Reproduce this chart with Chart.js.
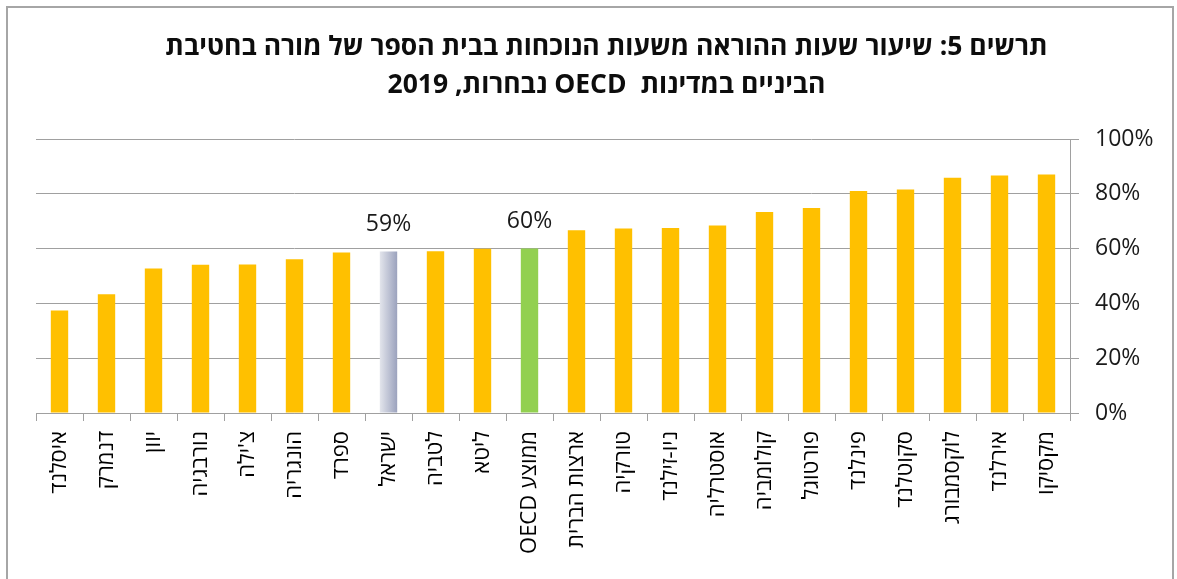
<!DOCTYPE html>
<html lang="he">
<head>
<meta charset="utf-8">
<script src="https://cdn.jsdelivr.net/npm/chart.js@4"></script>
<style>
  body { margin: 0; overflow: hidden; background: #fff; }
  #frame { position: absolute; left: 6px; top: 6px; width: 1164px; height: 600px;
           border: 2px solid #a6a6a6; border-bottom: none; }
  #teachChart { position: absolute; left: 0; top: 0; direction: rtl; }
</style>
</head>
<body>
<div id="frame"></div>
<canvas id="teachChart" width="1177" height="579"></canvas>
<script>
const countries = ['איסלנד', 'דנמרק', 'יוון', 'נורבגיה', "צ'ילה", 'הונגריה', 'ספרד', 'ישראל',
    'לטביה', 'ליטא', 'ממוצע OECD', 'ארצות הברית', 'טורקיה', 'ניו-זילנד', 'אוסטרליה',
    'קולומביה', 'פורטוגל', 'פינלנד', 'סקוטלנד', 'לוקסמבורג', 'אירלנד', 'מקסיקו'];
const teachShare = [37.4, 43.3, 52.7, 54.1, 54.2, 56.1, 58.6, 58.9, 59.0, 59.9, 60.0,
    66.7, 67.3, 67.5, 68.4, 73.4, 74.8, 81.0, 81.6, 85.9, 86.7, 87.0];
const labelled = ['ישראל', 'ממוצע OECD'];
const titleLines = ['תרשים 5: שיעור שעות ההוראה משעות הנוכחות בבית הספר של מורה בחטיבת',
    'הביניים במדינות  OECD נבחרות, 2019'];

const FONT = "'Open Sans', 'Liberation Sans', 'DejaVu Sans', sans-serif";
const GRID = '#a0a0a0';
const barPct = 0.37;

function barColor(c) {
    const name = countries[c.dataIndex];
    if (name === 'ממוצע OECD') return '#92d050';
    if (name === 'ישראל') {
        const xs = c.chart.scales.x;
        if (!xs || !xs.width) return '#bfc3d4';
        const mid = xs.getPixelForValue(c.dataIndex);
        const half = xs.width / countries.length * barPct / 2;
        const g = c.chart.ctx.createLinearGradient(mid - half, 0, mid + half, 0);
        g.addColorStop(0, '#e3e5ec');
        g.addColorStop(1, '#9ba2bd');
        return g;
    }
    return '#ffc000';
}

const valueLabels = {
    id: 'valueLabels',
    afterDatasetsDraw(chart) {
        const ctx = chart.ctx;
        const meta = chart.getDatasetMeta(0);
        ctx.save();
        ctx.font = '23px ' + FONT;
        ctx.fillStyle = '#1a1a1a';
        ctx.textAlign = 'center';
        ctx.textBaseline = 'bottom';
        meta.data.forEach((bar, i) => {
            if (labelled.includes(countries[i])) {
                ctx.fillText(Math.round(teachShare[i]) + '%', bar.x, bar.y - 16);
            }
        });
        ctx.restore();
    }
};

new Chart(document.getElementById('teachChart'), {
    type: 'bar',
    data: {
        labels: countries,
        datasets: [{
            data: teachShare,
            backgroundColor: barColor,
            barPercentage: barPct,
            categoryPercentage: 1
        }]
    },
    options: {
        responsive: false,
        animation: false,
        layout: { padding: { left: 36, right: 0, top: 0, bottom: 0 } },
        plugins: {
            legend: { display: false },
            tooltip: { enabled: false },
            title: {
                display: true,
                text: titleLines,
                color: '#0d0d0d',
                font: { family: FONT, size: 26.5, weight: 'bold', lineHeight: '38px' },
                padding: { top: 28, bottom: 35 }
            }
        },
        scales: {
            x: {
                grid: { drawOnChartArea: false, drawTicks: true, tickLength: 8, color: GRID, offset: true },
                border: { display: true, color: GRID },
                ticks: {
                    autoSkip: false, minRotation: 90, maxRotation: 90, padding: 10,
                    color: '#000', font: { family: FONT, size: 22 }
                },
                afterFit(axis) { axis.height = 166; }
            },
            y: {
                position: 'right',
                min: 0, max: 100,
                grid: { color: GRID, tickLength: 9 },
                border: { display: true, color: GRID },
                ticks: {
                    stepSize: 20, padding: 16, color: '#1a1a1a',
                    font: { family: FONT, size: 23 },
                    callback: v => v + '%'
                },
                afterFit(axis) { axis.width = 107; }
            }
        }
    },
    plugins: [valueLabels]
});
</script>
</body>
</html>
